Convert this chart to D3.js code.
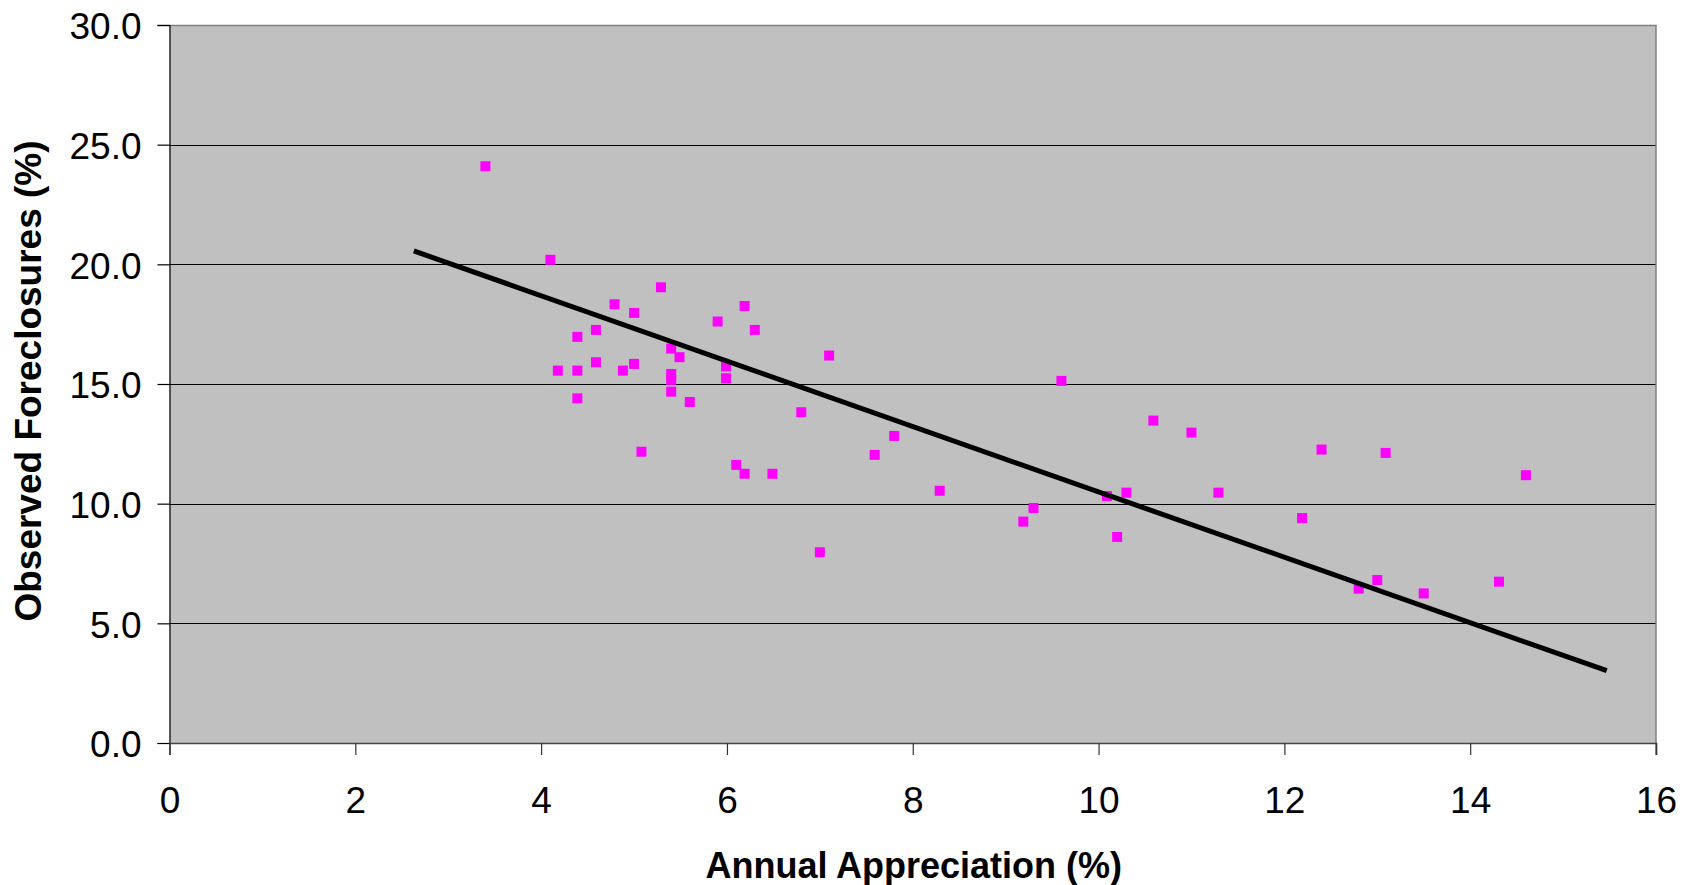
<!DOCTYPE html>
<html>
<head>
<meta charset="utf-8">
<script src="https://cdn.jsdelivr.net/npm/d3@7"></script>
<style>
  html, body { margin: 0; padding: 0; background: #fff; }
  svg { display: block; }
  text { font-family: "Liberation Sans", Arial, sans-serif; fill: #000; }
</style>
</head>
<body>
<svg id="chart" width="1690" height="885"></svg>
<script>
// ---- Data ----
const appreciation = [3.40, 4.10, 5.29, 4.79, 5.00, 6.19, 5.90, 4.59, 6.30, 4.39,
  5.40, 7.10, 5.49, 4.59, 5.00, 5.99, 4.18, 4.39, 4.88, 5.40,
  5.99, 5.40, 9.60, 5.40, 4.39, 5.60, 6.80, 10.59, 11.00, 7.80,
  12.40, 13.09, 5.08, 7.59, 6.10, 6.19, 6.49, 14.60, 8.29, 11.29,
  10.30, 10.09, 9.30, 12.19, 9.19, 10.20, 7.00, 14.31, 13.00, 12.80, 13.50];
const foreclosures = [24.1, 20.19, 19.04, 18.33, 17.97, 18.26, 17.61, 17.26, 17.26, 16.97,
  16.48, 16.19, 16.12, 15.91, 15.84, 15.73, 15.56, 15.56, 15.56, 15.42,
  15.24, 15.17, 15.13, 14.68, 14.40, 14.25, 13.82, 13.47, 12.97, 12.83,
  12.26, 12.12, 12.17, 12.04, 11.62, 11.25, 11.25, 11.19, 10.54, 10.46,
  10.46, 10.32, 9.82, 9.40, 9.25, 8.61, 7.97, 6.74, 6.81, 6.45, 6.25];
const trendX = [2.63, 15.47];
const trendY = [20.56, 3.02];
const xTicks = [0, 2, 4, 6, 8, 10, 12, 14, 16];
const yTicks = [0, 5, 10, 15, 20, 25, 30];
const xTitle = "Annual Appreciation (%)";
const yTitle = "Observed Foreclosures (%)";

// ---- Layout ----
const pL = 169.5, pR = 1656, pT = 25, pB = 743;
const svg = d3.select("#chart");

const x = d3.scaleLinear().domain([0, 16]).range([pL, pR]);
const y = d3.scaleLinear().domain([0, 30]).range([pB, pT]);

// plot background
svg.append("rect")
  .attr("x", pL).attr("y", pT)
  .attr("width", pR - pL).attr("height", pB - pT)
  .attr("fill", "#C0C0C0");

// gridlines
svg.append("g")
  .selectAll("line")
  .data(yTicks.filter(d => d > 0 && d < 30))
  .join("line")
  .attr("x1", pL).attr("x2", pR)
  .attr("y1", d => Math.round(y(d)) + 0.5).attr("y2", d => Math.round(y(d)) + 0.5)
  .attr("stroke", "#000").attr("stroke-width", 1.2);

// border top & right
svg.append("line").attr("x1", pL - 12).attr("x2", pR + 0.5)
  .attr("y1", pT + 0.5).attr("y2", pT + 0.5)
  .attr("stroke", "#808080").attr("stroke-width", 1.5);
svg.append("line").attr("x1", pR).attr("x2", pR)
  .attr("y1", pT).attr("y2", pB + 12)
  .attr("stroke", "#808080").attr("stroke-width", 1.5);

// Y axis
const yAxis = d3.axisLeft(y).tickValues(yTicks).tickFormat(d3.format(".1f")).tickSize(12).tickPadding(16);
const gy = svg.append("g").attr("transform", `translate(${pL},0)`).call(yAxis);
gy.select(".domain").attr("stroke", "#000").attr("stroke-width", 1.2);
gy.selectAll(".tick line").attr("stroke", "#000").attr("stroke-width", 1.2);
gy.selectAll(".tick text")
  .attr("dy", "0.37em")
  .style("font-size", "37px").style("font-family", "'Liberation Sans', Arial, sans-serif").attr("fill", "#000");

// X axis
const xAxis = d3.axisBottom(x).tickValues(xTicks).tickFormat(d3.format("d")).tickSize(12).tickPadding(32);
const gx = svg.append("g").attr("transform", `translate(0,${pB})`).call(xAxis);
gx.select(".domain").attr("stroke", "#444").attr("stroke-width", 1.5);
gx.selectAll(".tick line").attr("stroke", "#333").attr("stroke-width", 1.2);
gx.selectAll(".tick text").style("font-size", "37px").style("font-family", "'Liberation Sans', Arial, sans-serif").attr("fill", "#000");

// points
const ms = 10;
svg.append("g")
  .selectAll("rect")
  .data(appreciation.map((a, i) => [a, foreclosures[i]]))
  .join("rect")
  .attr("x", d => x(d[0]) - ms / 2)
  .attr("y", d => y(d[1]) - ms / 2)
  .attr("width", ms).attr("height", ms)
  .attr("fill", "#FF00FF");

// trend line
const line = d3.line().x(d => x(d[0])).y(d => y(d[1]));
svg.append("path")
  .datum(trendX.map((v, i) => [v, trendY[i]]))
  .attr("d", line)
  .attr("fill", "none")
  .attr("stroke", "#000")
  .attr("stroke-width", 5);

// axis titles
svg.append("text")
  .attr("x", (pL + pR) / 2 + 1).attr("y", 878)
  .attr("text-anchor", "middle")
  .style("font-size", "36px").style("font-weight", "bold")
  .text(xTitle);

svg.append("text")
  .attr("transform", `translate(41,${(pT + pB) / 2 - 3}) rotate(-90)`)
  .attr("text-anchor", "middle")
  .style("font-size", "37px").style("font-weight", "bold")
  .text(yTitle);
</script>
</body>
</html>
